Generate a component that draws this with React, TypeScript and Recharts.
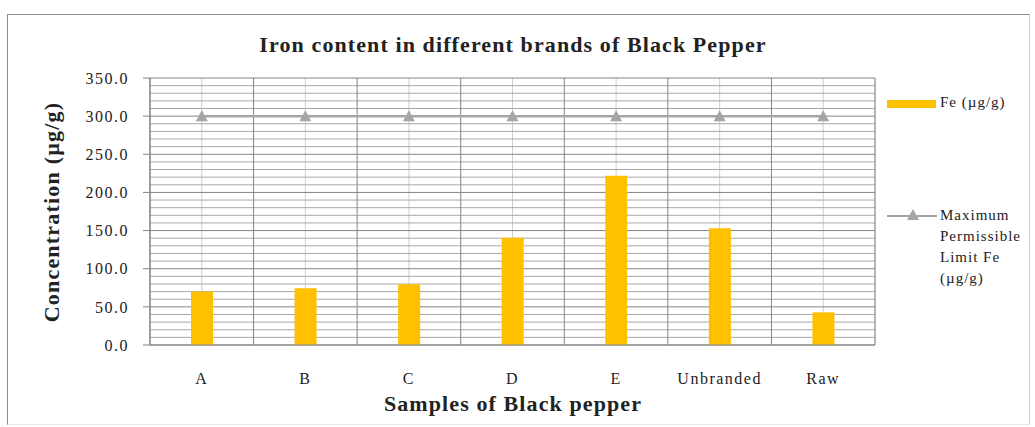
import React from "react";
import {
  ComposedChart,
  Bar,
  Line,
  XAxis,
  YAxis,
  CartesianGrid,
  ReferenceLine,
} from "recharts";

const categories = ["A", "B", "C", "D", "E", "Unbranded", "Raw"];
const feValues = [70.0, 74.3, 79.5, 140.6, 222.0, 153.0, 42.8];
const limitValues = [300, 300, 300, 300, 300, 300, 300];
const yTicks = [0, 50, 100, 150, 200, 250, 300, 350];
const yMinorTicks = [10, 20, 30, 40, 60, 70, 80, 90, 110, 120, 130, 140, 160, 170, 180, 190, 210, 220, 230, 240, 260, 270, 280, 290, 310, 320, 330, 340];

const data = categories.map((c, i) => ({ name: c, fe: feValues[i], limit: limitValues[i] }));

const serif = "'Liberation Serif', 'Times New Roman', serif";

const Triangle = (props: any) => {
  const { cx, cy } = props;
  if (cx == null || cy == null) return null;
  return (
    <path
      d={`M${cx},${cy - 6} L${cx + 6},${cy + 5} L${cx - 6},${cy + 5} Z`}
      fill="#A5A5A5"
      stroke="none"
    />
  );
};

export default function App() {
  const W = 1035;
  const H = 427;
  const left = 150;
  const right = 875;
  const top = 78;
  const bottom = 345;
  const yAxisW = 70;
  const xAxisH = 40;
  return (
    <div style={{ position: "absolute", left: 0, top: 0, width: W, height: H, background: "#fff", fontFamily: serif }}>
      <div
        style={{
          position: "absolute",
          left: 7,
          top: 14,
          width: 1021,
          height: 409,
          borderLeft: "1px solid #8c8c8c",
          borderTop: "1px solid #8c8c8c",
          borderRight: "1px solid #d0d0d0",
          borderBottom: "1px solid #e8e8e8",
        }}
      />
      <ComposedChart
        width={W}
        height={H}
        data={data}
        margin={{ top: top, left: left - yAxisW, right: W - right, bottom: H - bottom - xAxisH }}
        style={{ position: "absolute", left: 0, top: 0 }}
      >
        <CartesianGrid horizontal={false} vertical={true} stroke="#cfcfcf" strokeWidth={1} />
        <CartesianGrid horizontalValues={yMinorTicks} horizontal={true} vertical={false} stroke="#a8a8a8" strokeWidth={1} />
        <CartesianGrid horizontalValues={yTicks} horizontal={true} vertical={false} stroke="#858585" strokeWidth={1} />
        {categories.map((c) => (
          <ReferenceLine key={"x" + c} x={c} position="start" stroke="#868686" strokeWidth={1} />
        ))}
        <ReferenceLine x={categories[categories.length - 1]} position="end" stroke="#868686" strokeWidth={1} />
        <XAxis
          dataKey="name"
          height={xAxisH}
          axisLine={{ stroke: "#858585" }}
          tickLine={false}
          tick={{ fill: "#222", fontSize: 16, fontFamily: serif, letterSpacing: 1.5 } as any}
          tickMargin={22}
        />
        <YAxis
          width={yAxisW}
          domain={[0, 350]}
          ticks={yTicks}
          interval={0}
          tickFormatter={(v: number) => v.toFixed(1)}
          axisLine={{ stroke: "#858585" }}
          tickLine={{ stroke: "#858585" }}
          tickSize={7}
          tickMargin={14}
          tick={{ fill: "#222", fontSize: 16, fontFamily: serif, letterSpacing: 1.5 } as any}
        />
        <Bar dataKey="fe" fill="#FFC000" barSize={22} isAnimationActive={false} />
        <Line
          dataKey="limit"
          stroke="#A5A5A5"
          strokeWidth={2.5}
          dot={<Triangle />}
          activeDot={false}
          isAnimationActive={false}
        />
      </ComposedChart>
      <div
        style={{
          position: "absolute",
          left: 0,
          width: 1026,
          top: 32,
          textAlign: "center",
          fontWeight: "bold",
          fontSize: 22,
          letterSpacing: 1.1,
          color: "#222",
          whiteSpace: "nowrap",
        }}
      >
        Iron content in different brands of Black Pepper
      </div>
      <div
        style={{
          position: "absolute",
          left: 0,
          width: 1026,
          top: 391,
          textAlign: "center",
          fontWeight: "bold",
          fontSize: 22,
          letterSpacing: 1.1,
          color: "#222",
          whiteSpace: "nowrap",
        }}
      >
        Samples of Black pepper
      </div>
      <div
        style={{
          position: "absolute",
          left: 52,
          top: 212,
          transform: "translate(-50%, -50%) rotate(-90deg)",
          fontWeight: "bold",
          fontSize: 22,
          letterSpacing: 1.2,
          color: "#222",
          whiteSpace: "nowrap",
        }}
      >
        Concentration (µg/g)
      </div>
      <div style={{ position: "absolute", left: 887, top: 100, width: 49, height: 8, background: "#FFC000" }} />
      <div style={{ position: "absolute", left: 940, top: 94, fontSize: 15, letterSpacing: 1, color: "#222", whiteSpace: "nowrap" }}>
        Fe (µg/g)
      </div>
      <div style={{ position: "absolute", left: 887, top: 215, width: 50, height: 2, background: "#A5A5A5" }} />
      <svg style={{ position: "absolute", left: 906, top: 208 }} width={14} height={14}>
        <path d="M7,1 L13,12 L1,12 Z" fill="#A5A5A5" />
      </svg>
      <div style={{ position: "absolute", left: 940, top: 205, fontSize: 15, lineHeight: "21px", letterSpacing: 1, color: "#222" }}>
        Maximum
        <br />
        Permissible
        <br />
        Limit Fe
        <br />
        (µg/g)
      </div>
    </div>
  );
}
